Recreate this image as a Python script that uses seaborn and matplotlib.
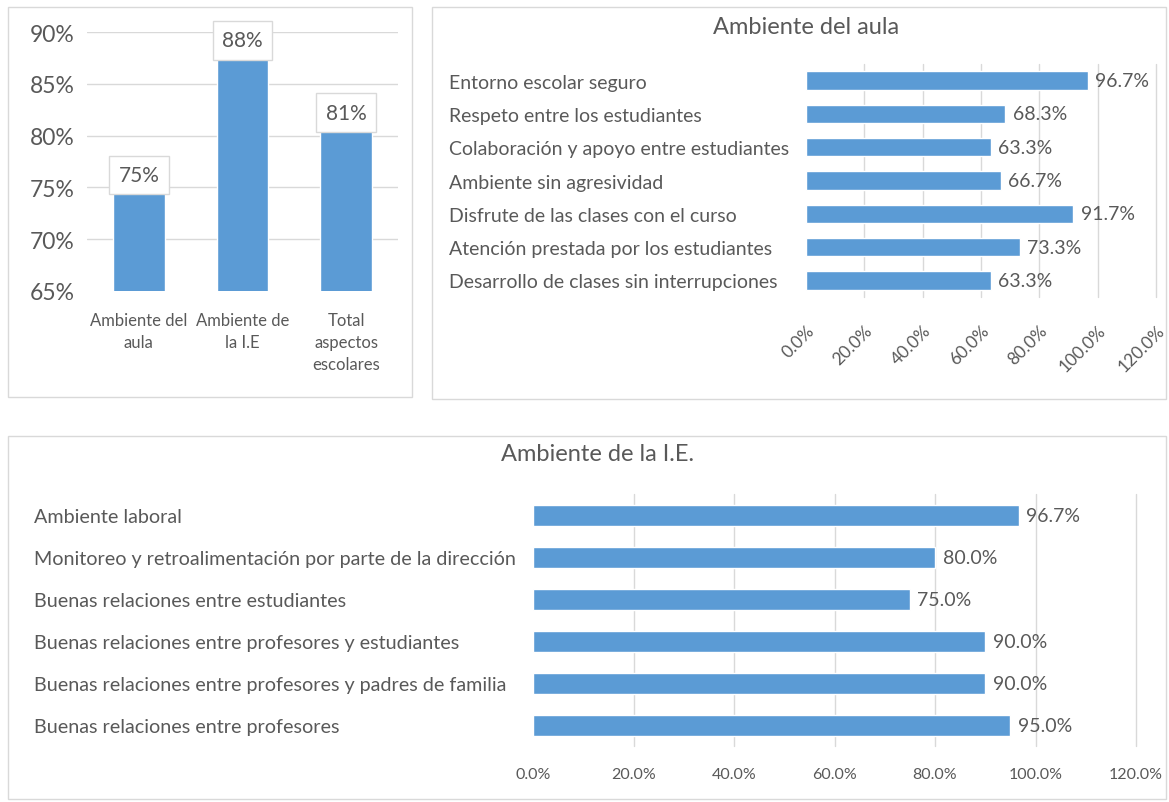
import matplotlib
matplotlib.use("Agg")
import matplotlib.pyplot as plt
import seaborn as sns
import pandas as pd
import numpy as np
from matplotlib.patches import Rectangle
from matplotlib.ticker import FuncFormatter

sns.set_theme(style="white")
plt.rcParams['font.family'] = ['Lato', 'DejaVu Sans']

# ---------------- data ----------------
summary_cats = ["Ambiente del\naula", "Ambiente de\nla I.E", "Total\naspectos\nescolares"]
summary_vals = [74.8, 87.8, 80.8]
summary_labels = ["75%", "88%", "81%"]

aula_cats = ["Entorno escolar seguro", "Respeto entre los estudiantes",
             "Colaboración y apoyo entre estudiantes", "Ambiente sin agresividad",
             "Disfrute de las clases con el curso", "Atención prestada por los estudiantes",
             "Desarrollo de clases sin interrupciones"]
aula_vals = [96.7, 68.3, 63.3, 66.7, 91.7, 73.3, 63.3]

ie_cats = ["Ambiente laboral", "Monitoreo y retroalimentación por parte de la dirección",
           "Buenas relaciones entre estudiantes", "Buenas relaciones entre profesores y estudiantes",
           "Buenas relaciones entre profesores y padres de familia", "Buenas relaciones entre profesores"]
ie_vals = [96.7, 80.0, 75.0, 90.0, 90.0, 95.0]

pct_ticks = [0, 20, 40, 60, 80, 100, 120]
summary_ticks = [65, 70, 75, 80, 85, 90]

BLUE = "#5B9BD5"
TXT = "#595959"
GRID = "#d9d9d9"

W, H = 1169, 803
fig = plt.figure(figsize=(W / 100, H / 100), dpi=100)
fig.patch.set_facecolor("white")

def fx(px):
    return px / W

def fy(py):
    return 1 - py / H

# panel borders
for (x0, y0, x1, y1) in [(8, 8, 412, 398), (432, 8, 1166, 400), (8, 437, 1166, 800)]:
    fig.add_artist(Rectangle((fx(x0), fy(y1)), fx(x1) - fx(x0), fy(y0) - fy(y1),
                             transform=fig.transFigure, fill=False, edgecolor=GRID, lw=1.0))

def clean(ax):
    for s in ax.spines.values():
        s.set_visible(False)
    ax.set_xlabel("")
    ax.set_ylabel("")

# ---------------- top-left: summary ----------------
ax1 = fig.add_axes([fx(87), fy(292), fx(398) - fx(87), fy(33) - fy(292)])
df1 = pd.DataFrame({"cat": summary_cats, "val": summary_vals})
for t in summary_ticks[1:]:
    ax1.axhline(t, color=GRID, lw=1.0, zorder=0)
sns.barplot(data=df1, x="cat", y="val", color=BLUE, width=0.5, saturation=1, ax=ax1)
ax1.set_ylim(65, 90)
ax1.set_yticks(summary_ticks)
ax1.yaxis.set_major_formatter(FuncFormatter(lambda v, _: f"{v:.0f}%"))
ax1.tick_params(axis="y", labelsize=16.5, labelcolor=TXT, length=0, pad=9)
ax1.tick_params(axis="x", labelsize=12, labelcolor=TXT, length=0, pad=15)
for lab in ax1.get_xticklabels():
    lab.set_linespacing(1.45)
for i, (v, lab) in enumerate(zip(summary_vals, summary_labels)):
    ax1.text(i, v + 1.4, lab, ha="center", va="center", fontsize=15, color=TXT,
             bbox=dict(boxstyle="square,pad=0.45", facecolor="white", edgecolor=GRID, lw=1.0),
             zorder=5)
clean(ax1)

# ---------------- top-right: Ambiente del aula ----------------
ax2 = fig.add_axes([fx(806), fy(298), fx(1156) - fx(806), fy(65) - fy(298)])
df2 = pd.DataFrame({"cat": aula_cats, "val": aula_vals})
for t in pct_ticks[1:]:
    ax2.axvline(t, color=GRID, lw=1.0, zorder=0, clip_on=False)
sns.barplot(data=df2, y="cat", x="val", color=BLUE, width=0.55, saturation=1, ax=ax2,
            orient="h")
ax2.set_xlim(0, 120)
ax2.set_ylim(6.5, -0.5)
ax2.set_xticks(pct_ticks)
ax2.xaxis.set_major_formatter(FuncFormatter(lambda v, _: f"{v:.1f}%"))
ax2.tick_params(axis="x", labelsize=12.5, labelcolor=TXT, length=0, pad=18)
for lab in ax2.get_xticklabels():
    lab.set_rotation(45)
    lab.set_ha("right")
    lab.set_rotation_mode("anchor")
ax2.tick_params(axis="y", labelsize=14, labelcolor=TXT, length=0, pad=(806 - 449) * 0.72)
for lab in ax2.get_yticklabels():
    lab.set_ha("left")
for i, v in enumerate(aula_vals):
    ax2.text(v + 2.5, i, f"{v:.1f}%", ha="left", va="center", fontsize=14, color=TXT)
clean(ax2)
fig.text(fx(806), fy(27), "Ambiente del aula", ha="center", va="center", fontsize=17, color=TXT)

# ---------------- bottom: Ambiente de la I.E. ----------------
ax3 = fig.add_axes([fx(533), fy(747), fx(1136) - fx(533), fy(495) - fy(747)])
df3 = pd.DataFrame({"cat": ie_cats, "val": ie_vals})
for t in pct_ticks[1:]:
    ax3.axvline(t, color=GRID, lw=1.0, zorder=0, clip_on=False)
sns.barplot(data=df3, y="cat", x="val", color=BLUE, width=0.5, saturation=1, ax=ax3,
            orient="h")
ax3.set_xlim(0, 120)
ax3.set_ylim(5.5, -0.5)
ax3.set_xticks(pct_ticks)
ax3.xaxis.set_major_formatter(FuncFormatter(lambda v, _: f"{v:.1f}%"))
ax3.tick_params(axis="x", labelsize=11.5, labelcolor=TXT, length=0, pad=15)
ax3.tick_params(axis="y", labelsize=14.2, labelcolor=TXT, length=0, pad=(533 - 34) * 0.72)
for lab in ax3.get_yticklabels():
    lab.set_ha("left")
for i, v in enumerate(ie_vals):
    ax3.text(v + 1.5, i, f"{v:.1f}%", ha="left", va="center", fontsize=14, color=TXT)
clean(ax3)
fig.text(fx(598), fy(455), "Ambiente de la I.E.", ha="center", va="center", fontsize=17, color=TXT)

fig.savefig("out.png", dpi=100, facecolor="white")
